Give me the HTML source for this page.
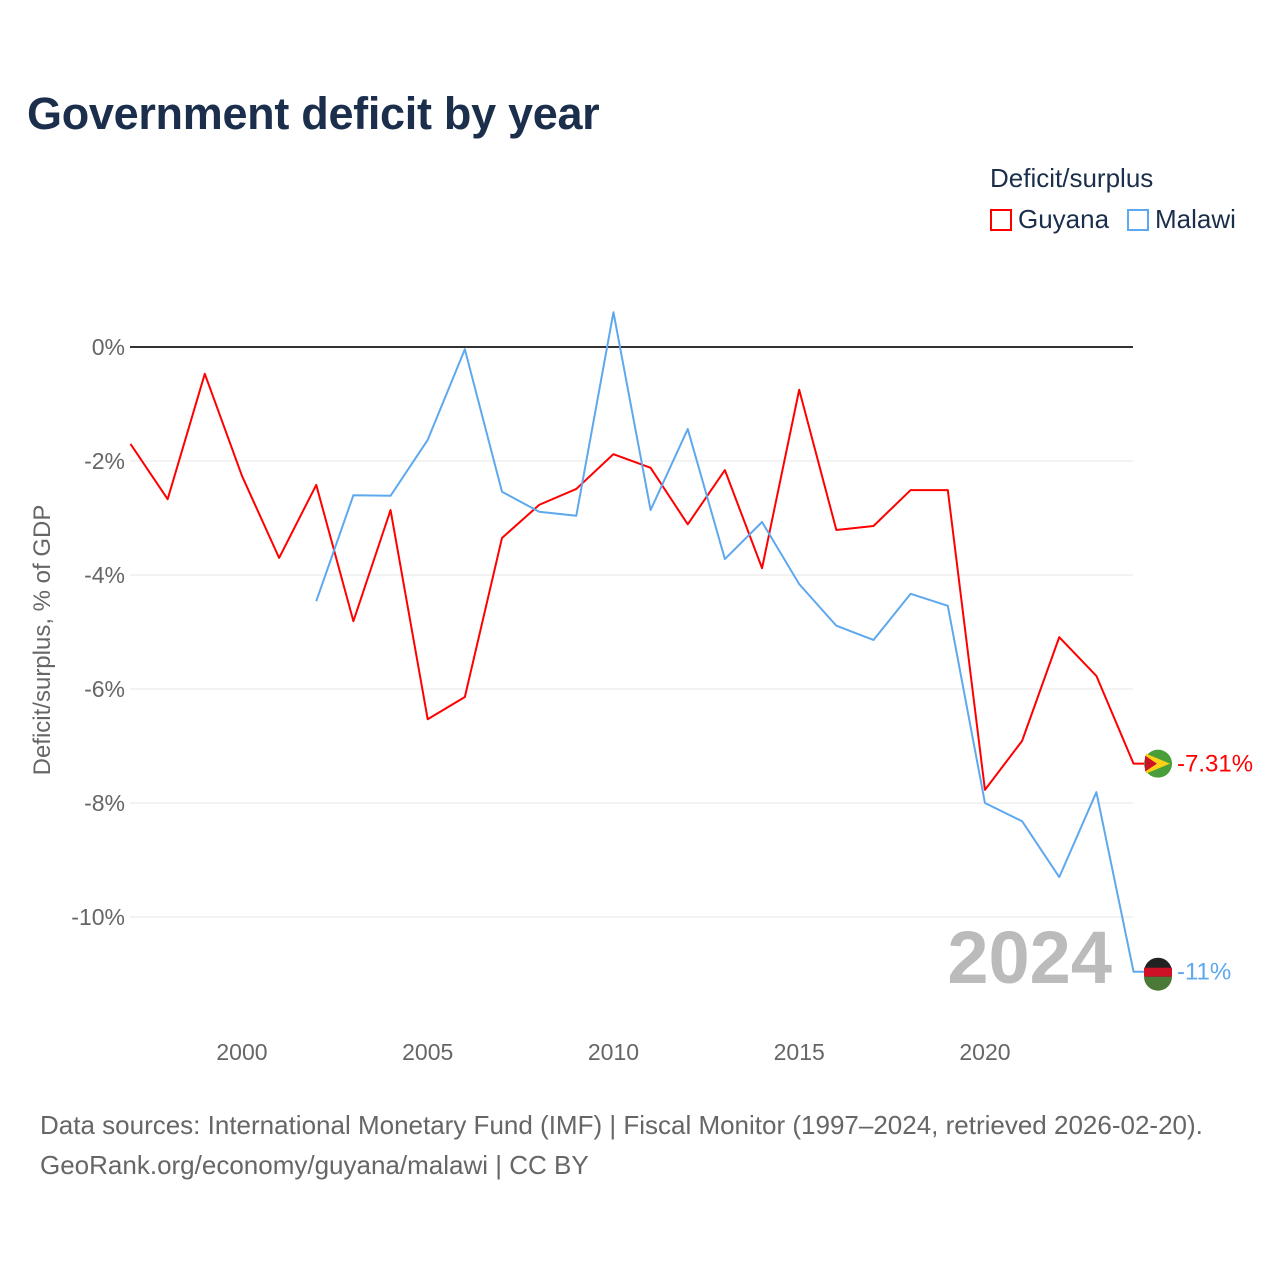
<!DOCTYPE html>
<html><head><meta charset="utf-8">
<style>
html,body{margin:0;padding:0;background:#fff;}
body{width:1280px;height:1280px;position:relative;font-family:"Liberation Sans",sans-serif;overflow:hidden;}
#title{position:absolute;left:27px;top:88px;font-size:45px;font-weight:bold;color:#1b2e4b;margin:0;letter-spacing:-0.3px;}
#legend-title{position:absolute;left:990px;top:163px;font-size:26px;color:#1b2e4b;}
.leg{position:absolute;top:204px;font-size:26px;color:#1b2e4b;display:flex;align-items:center;}
.sw{width:22px;height:22px;border:2px solid;box-sizing:border-box;margin-right:6px;}
#source{position:absolute;left:40px;top:1105px;font-size:26px;color:#666;line-height:40px;white-space:nowrap;}
svg{position:absolute;left:0;top:0;}
</style></head>
<body>
<h1 id="title">Government deficit by year</h1>
<div id="legend-title">Deficit/surplus</div>
<div class="leg" style="left:990px"><div class="sw" style="border-color:#f00"></div>Guyana</div>
<div class="leg" style="left:1127px"><div class="sw" style="border-color:#5ea8ee"></div>Malawi</div>
<svg id="chart" width="1280" height="1280"></svg>
<div id="source">Data sources: International Monetary Fund (IMF) | Fiscal Monitor (1997–2024, retrieved 2026-02-20).<br>GeoRank.org/economy/guyana/malawi | CC BY</div>
<script>
const years = [1997,1998,1999,2000,2001,2002,2003,2004,2005,2006,2007,2008,2009,2010,2011,2012,2013,2014,2015,2016,2017,2018,2019,2020,2021,2022,2023,2024];
const guyana = [-1.70,-2.67,-0.47,-2.26,-3.70,-2.42,-4.81,-2.86,-6.53,-6.14,-3.35,-2.77,-2.49,-1.88,-2.12,-3.11,-2.16,-3.88,-0.75,-3.21,-3.14,-2.51,-2.51,-7.77,-6.91,-5.09,-5.77,-7.31];
const malawi = [null,null,null,null,null,-4.46,-2.60,-2.61,-1.63,-0.04,-2.54,-2.89,-2.96,0.61,-2.86,-1.44,-3.72,-3.07,-4.16,-4.89,-5.14,-4.33,-4.54,-8.00,-8.32,-9.30,-7.81,-10.96];
const yTicks = [0,-2,-4,-6,-8,-10];
const xTicks = [2000,2005,2010,2015,2020];

const NS="http://www.w3.org/2000/svg";
const svg=document.getElementById('chart');
const x=v=>130.5+(v-1997)*37.15;
const y=v=>347-v*57;
function mk(t,a){const e=document.createElementNS(NS,t);for(const k in a)e.setAttribute(k,a[k]);svg.appendChild(e);return e;}

yTicks.forEach(t=>{
  const l=mk('line',{x1:130,x2:1133,y1:y(t),y2:y(t),stroke:t===0?'#333':'#e5e5e5','stroke-width':t===0?2:1});
  
  
  const tx=mk('text',{x:125,y:y(t)+8,'text-anchor':'end','font-size':23,fill:'#666','font-family':'Liberation Sans, sans-serif'});
  tx.textContent=t+'%';
  
  
});
xTicks.forEach(t=>{
  const tx=mk('text',{x:x(t),y:1060,'text-anchor':'middle','font-size':23,fill:'#666','font-family':'Liberation Sans, sans-serif'});
  tx.textContent=t;
  
  
});
const yt=mk('text',{transform:'translate(50,640) rotate(-90)','text-anchor':'middle','font-size':24,fill:'#666','font-family':'Liberation Sans, sans-serif'});
yt.textContent='Deficit/surplus, % of GDP';



const yr=mk('text',{x:1112,y:983,'text-anchor':'end','font-size':74,'font-weight':'bold',fill:'#bbb','font-family':'Liberation Sans, sans-serif'});
yr.textContent='2024';



function series(vals,color,name){
  let d='';let started=false;
  vals.forEach((v,i)=>{if(v===null)return;d+=(started?'L':'M')+x(years[i])+','+y(v);started=true;});
  d+='H1145';
  const p=mk('path',{d:d,fill:'none',stroke:color,'stroke-width':2,'stroke-linejoin':'round'});
  
  
}
series(guyana,'#f00','guyana');
series(malawi,'#5ea8ee','malawi');

function endLabel(vals,color,name,label){
  const v=vals[vals.length-1];const cy=y(v);
  const c=mk('circle',{cx:1158,cy:cy,r:14,fill:name==='guyana'?'#4a9e3a':'#222'});
  
  
  if(name==='guyana'){
    const t=mk('path',{d:`M1146,${cy-10} L1170,${cy} L1146,${cy+10}Z`,fill:'#fcd116'});
    
    const t2=mk('path',{d:`M1145,${cy-8} L1157,${cy} L1145,${cy+8}Z`,fill:'#ce1126'});
    
  }else{
    const r=mk('rect',{x:1144,y:cy-4,width:28,height:9,fill:'#ce1126'});
    
    const g=mk('path',{d:`M1144,${cy+5} L1172,${cy+5} A14,14 0 0 1 1144,${cy+5}Z`,fill:'#4a7a35'});
    
  }
  const tx=mk('text',{x:1177,y:cy+8,'font-size':24,fill:color,'font-family':'Liberation Sans, sans-serif'});
  tx.textContent=label;
  
  
}
endLabel(guyana,'#f00','guyana','-7.31%');
endLabel(malawi,'#5ea8ee','malawi','-11%');
</script>
</body></html>
